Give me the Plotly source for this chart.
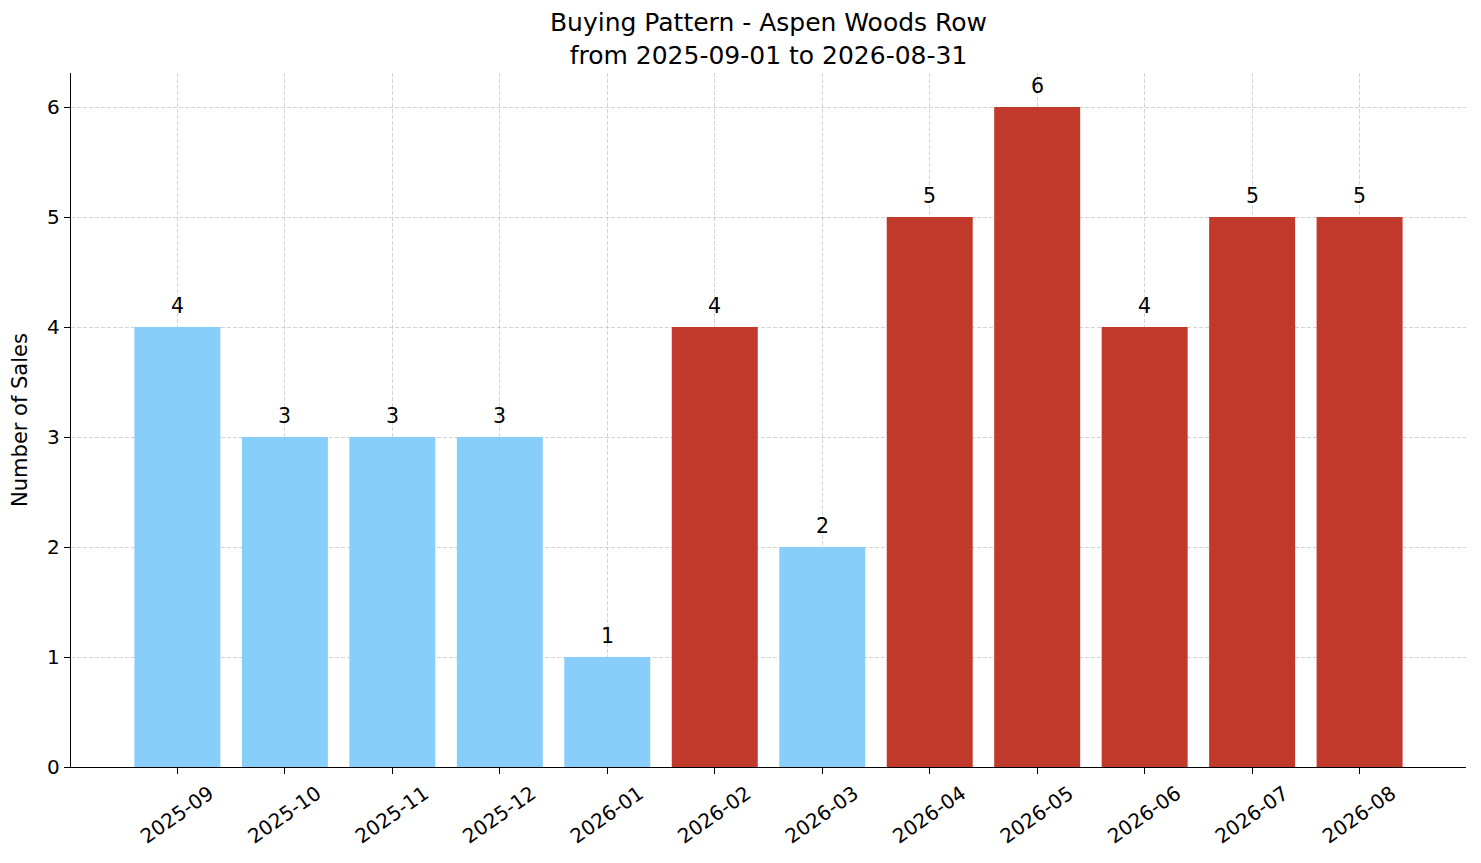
import plotly.graph_objects as go

months = ['2025-09', '2025-10', '2025-11', '2025-12', '2026-01', '2026-02',
          '2026-03', '2026-04', '2026-05', '2026-06', '2026-07', '2026-08']
sales = [4, 3, 3, 3, 1, 4, 2, 5, 6, 4, 5, 5]
# months flagged as hot in the source chart
hot = [False, False, False, False, False, True, False, True, True, True, True, True]

BLUE = '#87CEFA'
RED = '#C0392B'
FONT = 'DejaVu Sans'

# the page body adds an 8px offset, so the figure is drawn slightly smaller
W, H = 1473, 855

fig = go.Figure(go.Bar(
    x=list(range(len(months))),
    y=sales,
    width=0.8,
    marker=dict(color=[RED if h else BLUE for h in hot], line=dict(width=0)),
    hoverinfo='x+y',
))

# value labels above each bar
for i, v in enumerate(sales):
    fig.add_annotation(x=i, y=v, text=str(v), showarrow=False, yanchor='bottom',
                       yshift=7, font=dict(family=FONT, size=20.5, color='black'))

grid = 'rgba(170,170,170,0.5)'
fig.update_layout(
    width=W, height=H,
    margin=dict(l=63, r=15, t=65, b=96),
    paper_bgcolor='white', plot_bgcolor='white',
    font=dict(family=FONT, size=20, color='black'),
    title=dict(text='Buying Pattern - Aspen Woods Row<br>from 2025-09-01 to 2026-08-31',
               x=(63 + W - 15) / 2 / W, xref='container', xanchor='center',
               y=1 - 23 / H, yref='container', yanchor='top',
               font=dict(family=FONT, size=25)),
    showlegend=False,
)
fig.update_xaxes(
    range=[-0.99, 11.99], tickmode='array', tickvals=list(range(len(months))), ticktext=months,
    tickangle=-35, ticklabelshift=32, ticks='outside', ticklen=6, tickwidth=1.3, tickcolor='black',
    showline=True, linecolor='black', linewidth=1.3, mirror=False,
    showgrid=True, gridcolor=grid, griddash='4px,2px', gridwidth=0.8,
    tickfont=dict(family=FONT, size=20), layer='above traces', zeroline=False,
    automargin=False,
)
fig.update_yaxes(
    range=[0, 6.31], dtick=1, ticks='outside', ticklen=6, tickwidth=1.3, tickcolor='black',
    showline=True, linecolor='black', linewidth=1.3,
    showgrid=True, gridcolor=grid, griddash='4px,2px', gridwidth=0.8,
    tickfont=dict(family=FONT, size=20), layer='above traces', zeroline=False,
    title=dict(text='Number of Sales', font=dict(family=FONT, size=21), standoff=15),
    automargin=False,
)

fig.write_html('out.html')
